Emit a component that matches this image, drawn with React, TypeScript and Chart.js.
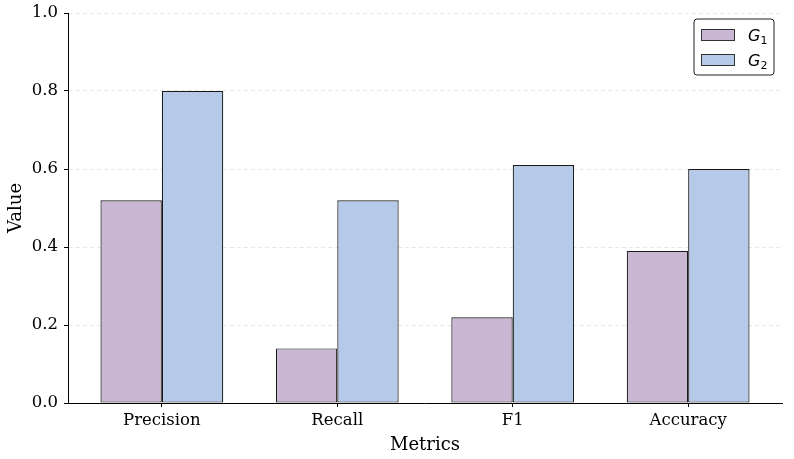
import React, { useEffect, useRef } from "react";
import { Chart, registerables } from "chart.js";

Chart.register(...registerables);

const categories = ["Precision", "Recall", "F1", "Accuracy"];
const seriesNames = ["G", "G"];
const seriesSubs = ["1", "2"];
const g1Values = [0.52, 0.14, 0.22, 0.39];
const g2Values = [0.8, 0.52, 0.61, 0.6];
const yTicks = [0, 0.2, 0.4, 0.6, 0.8, 1.0];
const colors = ["#C9B7D3", "#B5C9E8"];

const legendPlugin = {
  id: "mplLegend",
  afterDraw(chart: any) {
    const ctx = chart.ctx;
    const ca = chart.chartArea;
    const w = 80;
    const h = 56;
    const x0 = ca.right - 8 - w;
    const y0 = ca.top + 6;
    ctx.save();
    ctx.beginPath();
    const r = 3;
    ctx.moveTo(x0 + r, y0);
    ctx.lineTo(x0 + w - r, y0);
    ctx.arcTo(x0 + w, y0, x0 + w, y0 + r, r);
    ctx.lineTo(x0 + w, y0 + h - r);
    ctx.arcTo(x0 + w, y0 + h, x0 + w - r, y0 + h, r);
    ctx.lineTo(x0 + r, y0 + h);
    ctx.arcTo(x0, y0 + h, x0, y0 + h - r, r);
    ctx.lineTo(x0, y0 + r);
    ctx.arcTo(x0, y0, x0 + r, y0, r);
    ctx.closePath();
    ctx.fillStyle = "rgba(255,255,255,0.9)";
    ctx.fill();
    ctx.strokeStyle = "#222";
    ctx.lineWidth = 1;
    ctx.stroke();
    chart.data.datasets.forEach((ds: any, i: number) => {
      const py = y0 + 10 + i * 25;
      ctx.fillStyle = ds.backgroundColor;
      ctx.fillRect(x0 + 7, py, 33, 11);
      ctx.strokeStyle = "#333";
      ctx.lineWidth = 1;
      ctx.strokeRect(x0 + 7.5, py + 0.5, 33, 11);
      ctx.fillStyle = "#000";
      ctx.textBaseline = "alphabetic";
      ctx.textAlign = "left";
      ctx.font = "italic 16px 'DejaVu Sans'";
      const gx = x0 + 54;
      const gy = py + 12;
      ctx.fillText(seriesNames[i], gx, gy);
      const gw = ctx.measureText(seriesNames[i]).width;
      ctx.font = "11px 'DejaVu Sans'";
      ctx.fillText(seriesSubs[i], gx + gw, gy + 3);
    });
    ctx.restore();
  },
};

export default function App() {
  const ref = useRef<HTMLCanvasElement | null>(null);
  useEffect(() => {
    if (!ref.current) return;
    const mk = (vals: number[]) => vals.map((v, i) => ({ x: i, y: v }));
    const chart = new Chart(ref.current, {
      type: "bar",
      data: {
        datasets: [
          {
            label: "G1",
            data: mk(g1Values),
            backgroundColor: colors[0],
            borderColor: "#1a1a1a",
            borderWidth: 1.2,
            borderSkipped: false,
          },
          {
            label: "G2",
            data: mk(g2Values),
            backgroundColor: colors[1],
            borderColor: "#1a1a1a",
            borderWidth: 1.2,
            borderSkipped: false,
          },
        ],
      },
      options: {
        responsive: false,
        animation: false,
        events: [],
        categoryPercentage: 0.7,
        barPercentage: 1.0,
        layout: { padding: { left: 0, right: 12, top: 13, bottom: 0 } },
        plugins: {
          legend: { display: false },
          tooltip: { enabled: false },
        },
        scales: {
          x: {
            type: "linear",
            offset: false,
            min: -0.535,
            max: 3.535,
            afterBuildTicks: (scale: any) => {
              scale.ticks = categories.map((_, i) => ({ value: i }));
            },
            afterFit: (scale: any) => {
              scale.height = 56;
              scale.paddingLeft = 0;
              scale.paddingRight = 0;
            },
            ticks: {
              autoSkip: false,
              maxRotation: 0,
              padding: 4,
              color: "#000",
              font: { family: "'DejaVu Serif'", size: 16.5 },
              callback: (v: any) => categories[Math.round(Number(v))] ?? "",
            },
            grid: {
              display: true,
              offset: false,
              drawOnChartArea: false,
              drawTicks: true,
              tickLength: 4,
              tickColor: "#000",
              tickWidth: 1,
            },
            border: { display: true, color: "#000", width: 1 },
            title: {
              display: true,
              text: "Metrics",
              color: "#000",
              font: { family: "'DejaVu Serif'", size: 18 },
              padding: { top: 0, bottom: 3 },
            },
          },
          y: {
            type: "linear",
            min: 0,
            max: 1,
            afterBuildTicks: (scale: any) => {
              scale.ticks = yTicks.map((v) => ({ value: v }));
            },
            afterFit: (scale: any) => {
              scale.width = 68;
              scale.paddingTop = 0;
              scale.paddingBottom = 0;
            },
            ticks: {
              padding: 6,
              color: "#000",
              font: { family: "'DejaVu Serif'", size: 16.5 },
              callback: (v: any) => Number(v).toFixed(1),
            },
            grid: {
              display: true,
              drawOnChartArea: true,
              color: "#e2e2e2",
              lineWidth: 0.8,
              drawTicks: true,
              tickLength: 4,
              tickColor: "#000",
              tickWidth: 1,
              tickBorderDash: [],
            },
            border: { display: true, color: "#000", width: 1, dash: [4, 3] },
            title: {
              display: true,
              text: "Value",
              color: "#000",
              font: { family: "'DejaVu Serif'", size: 18 },
              padding: { top: 6, bottom: 0 },
            },
          },
        },
      } as any,
      plugins: [legendPlugin],
    });
    return () => chart.destroy();
  }, []);
  return (
    <div style={{ position: "absolute", left: 0, top: 0, width: 794, height: 459, background: "#fff" }}>
      <canvas ref={ref} width={794} height={459} style={{ width: 794, height: 459 }} />
    </div>
  );
}
